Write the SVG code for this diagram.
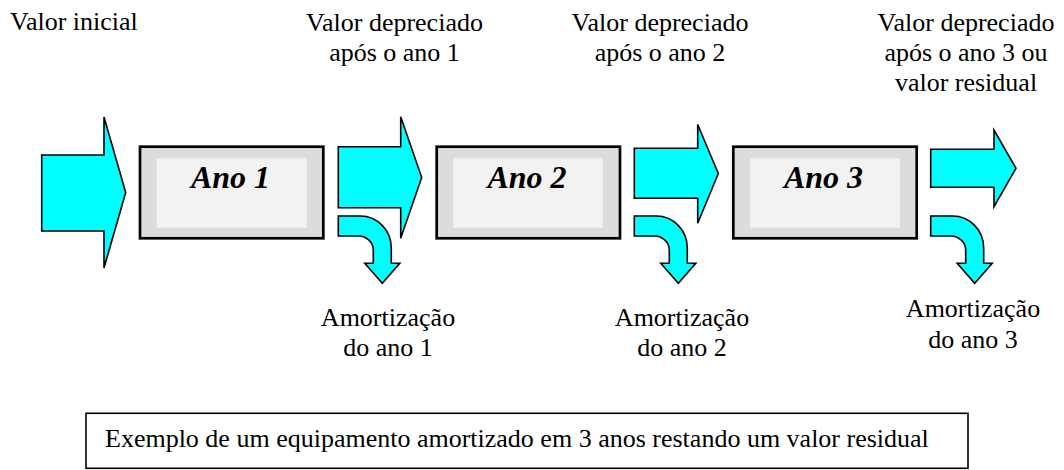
<svg xmlns="http://www.w3.org/2000/svg" width="1064" height="470" viewBox="0 0 1064 470">
<style>
text{font-family:'Liberation Serif','Times New Roman',serif;font-size:26px;fill:#000}
.lbl{text-anchor:middle}
.ano{font-weight:bold;font-style:italic;font-size:32px;text-anchor:middle}
.arrow{fill:#00ffff;stroke:#000;stroke-width:1.6;stroke-linejoin:miter}
.boxo{fill:#dcdcdc;stroke:#000;stroke-width:2.7}
.boxi{fill:#f2f2f2;stroke:none}
.note{fill:#fff;stroke:#000;stroke-width:1.6}
</style>
<rect width="1064" height="470" fill="#fff"/>
<g id="labels-top">
<text x="10" y="30">Valor inicial</text>
<text class="lbl" x="394.5" y="31">Valor depreciado</text>
<text class="lbl" x="394.5" y="61">após o ano 1</text>
<text class="lbl" x="660" y="31">Valor depreciado</text>
<text class="lbl" x="660" y="61">após o ano 2</text>
<text class="lbl" x="966" y="31">Valor depreciado</text>
<text class="lbl" x="966" y="61">após o ano 3 ou</text>
<text class="lbl" x="966" y="91">valor residual</text>
</g>
<g id="connectors">
<path class="arrow" d="M41.7,155 L104,155 L104,117 L125.7,192.5 L104,268 L104,231 L41.7,231 Z"/>
<path class="arrow" d="M338.3,146.7 L400.7,146.7 L400.7,116.7 L421.7,177.5 L400.7,238.3 L400.7,207.7 L338.3,207.7 Z"/>
<path class="arrow" d="M634.3,148.3 L697.7,148.3 L697.7,124.5 L718.3,173.5 L697.7,223.3 L697.7,198.3 L634.3,198.3 Z"/>
<path class="arrow" d="M930.7,149.3 L994,149.3 L994,130 L1016,168.3 L994,206.7 L994,187.3 L930.7,187.3 Z"/>
<path class="arrow" transform="translate(338.3,0)" d="M0,216 L22,216 A31,32 0 0 1 53,248 L53,263.3 L61.5,263.3 L44,283.3 L26.5,263.3 L35,263.3 L35,250 A15,14 0 0 0 20,236 L0,236 Z"/>
<path class="arrow" transform="translate(634.3,0)" d="M0,216 L22,216 A31,32 0 0 1 53,248 L53,263.3 L61.5,263.3 L44,283.3 L26.5,263.3 L35,263.3 L35,250 A15,14 0 0 0 20,236 L0,236 Z"/>
<path class="arrow" transform="translate(930.7,0)" d="M0,216 L22,216 A31,32 0 0 1 53,248 L53,263.3 L61.5,263.3 L44,283.3 L26.5,263.3 L35,263.3 L35,250 A15,14 0 0 0 20,236 L0,236 Z"/>
</g>
<g id="ano1">
<rect class="boxo" x="140" y="146.7" width="183.3" height="91.6"/>
<rect class="boxi" x="156.7" y="158.3" width="150" height="69.4"/>
<text class="ano" x="230.5" y="188.3">Ano 1</text>
</g>
<g id="ano2">
<rect class="boxo" x="436.7" y="146.7" width="183.3" height="91.6"/>
<rect class="boxi" x="453.3" y="158.3" width="149.4" height="69.4"/>
<text class="ano" x="527" y="188.3">Ano 2</text>
</g>
<g id="ano3">
<rect class="boxo" x="733.3" y="146.7" width="183.4" height="91.6"/>
<rect class="boxi" x="750" y="158.3" width="150" height="69.4"/>
<text class="ano" x="823.5" y="188.3">Ano 3</text>
</g>
<g id="labels-bottom">
<text class="lbl" x="388" y="326">Amortização</text>
<text class="lbl" x="388" y="356">do ano 1</text>
<text class="lbl" x="682" y="326">Amortização</text>
<text class="lbl" x="682" y="356">do ano 2</text>
<text class="lbl" x="973" y="317">Amortização</text>
<text class="lbl" x="973" y="348">do ano 3</text>
</g>
<g id="note">
<rect class="note" x="86" y="413.3" width="882" height="55"/>
<text x="105" y="447">Exemplo de um equipamento amortizado em 3 anos restando um valor residual</text>
</g>
</svg>
